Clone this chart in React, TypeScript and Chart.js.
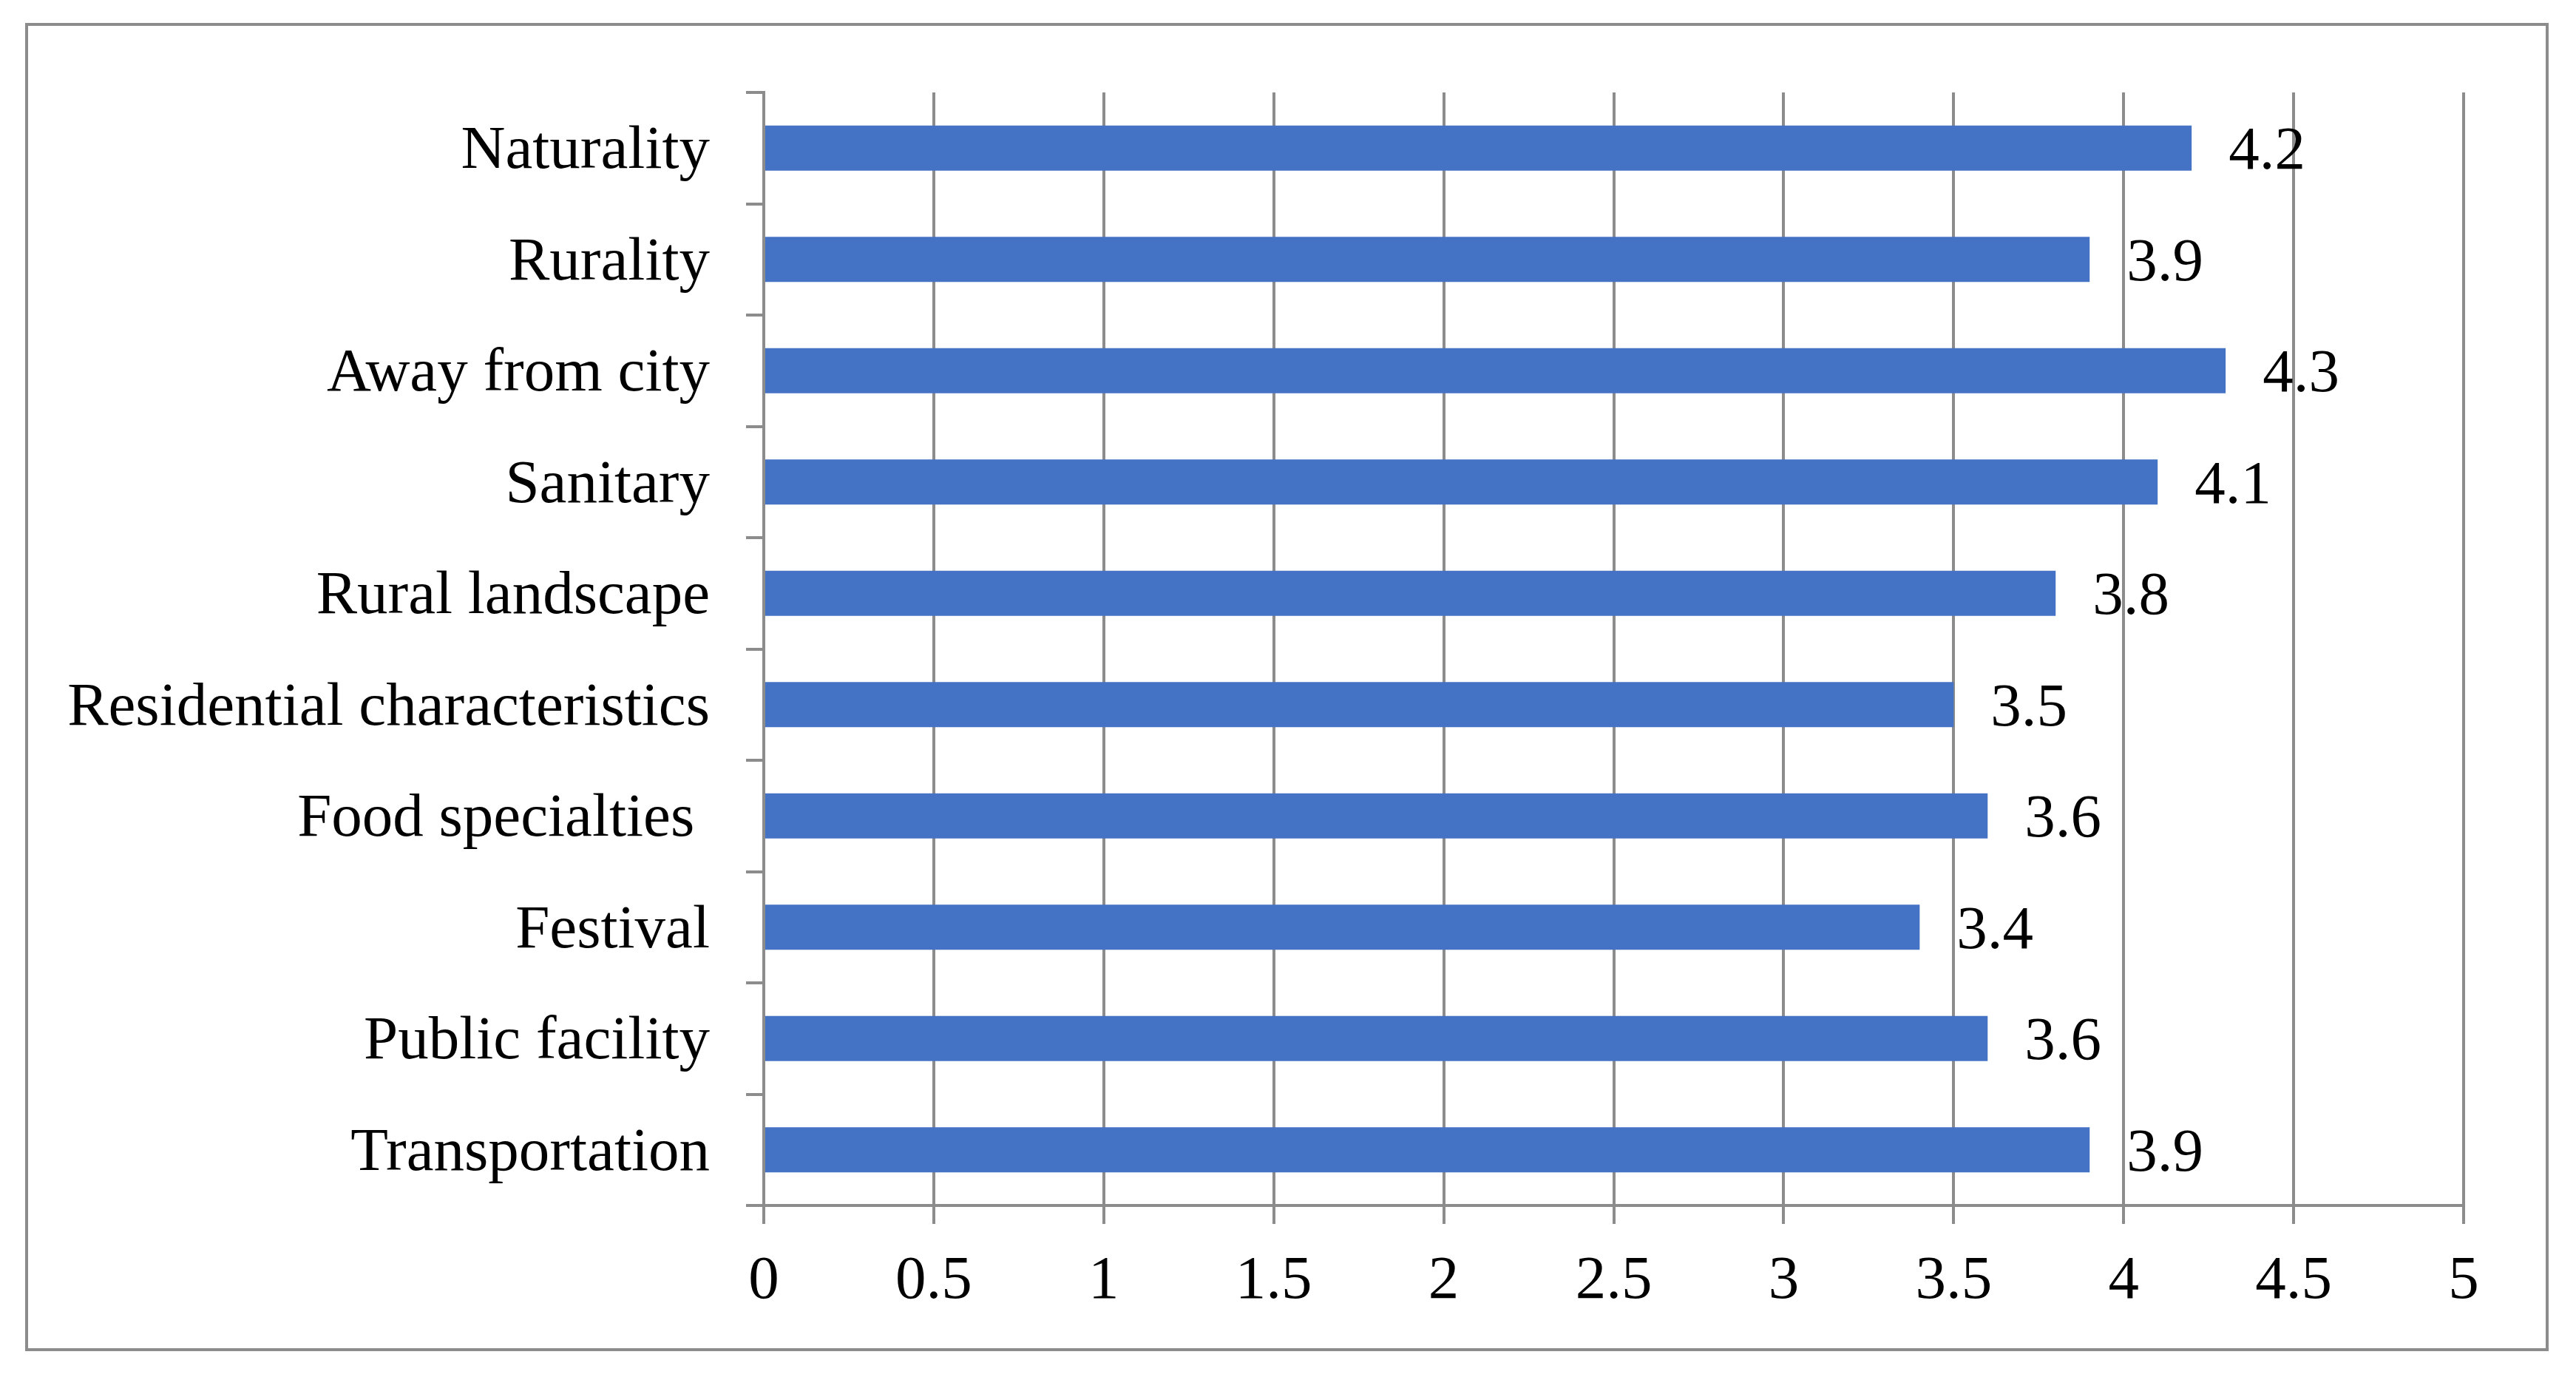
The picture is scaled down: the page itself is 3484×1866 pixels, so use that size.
import React, { useEffect, useRef } from "react";
import { Chart, registerables } from "chart.js";

Chart.register(...registerables);

const categories = [
  "Naturality",
  "Rurality",
  "Away from city",
  "Sanitary",
  "Rural landscape",
  "Residential characteristics",
  "Food specialties ",
  "Festival",
  "Public facility",
  "Transportation",
];
const scores = [4.2, 3.9, 4.3, 4.1, 3.8, 3.5, 3.6, 3.4, 3.6, 3.9];
const xMin = 0;
const xMax = 5;
const xStep = 0.5;

const GRAY = "#8c8c8c";
const BAR = "#4472C4";
const FONT = "'Liberation Serif', 'Times New Roman', serif";
const FONT_SIZE = 83;

const framePlugin = {
  id: "frame",
  beforeDraw(chart: any) {
    const ctx = chart.ctx;
    ctx.save();
    ctx.fillStyle = "#ffffff";
    ctx.fillRect(0, 0, chart.width, chart.height);
    ctx.strokeStyle = GRAY;
    ctx.lineWidth = 4;
    ctx.strokeRect(36, 33, 3409, 1792);
    ctx.restore();
  },
};

const valueLabelPlugin = {
  id: "valueLabels",
  afterDatasetsDraw(chart: any) {
    const ctx = chart.ctx;
    const meta = chart.getDatasetMeta(0);
    const data = chart.data.datasets[0].data;
    ctx.save();
    ctx.fillStyle = "#000000";
    ctx.font = `${FONT_SIZE}px ${FONT}`;
    ctx.textAlign = "left";
    ctx.textBaseline = "middle";
    meta.data.forEach((el: any, i: number) => {
      ctx.fillText(String(data[i]), el.x + 50, el.y + 6);
    });
    ctx.restore();
  },
};

export default function App() {
  const ref = useRef<HTMLCanvasElement | null>(null);
  useEffect(() => {
    if (!ref.current) return;
    const chart = new Chart(ref.current, {
      type: "bar",
      data: {
        labels: categories,
        datasets: [
          {
            data: scores,
            backgroundColor: BAR,
            borderWidth: 0,
            categoryPercentage: 1,
            barPercentage: 0.405,
          },
        ],
      },
      options: {
        indexAxis: "y",
        responsive: false,
        animation: false,
        devicePixelRatio: 1,
        layout: { padding: { left: 0, top: 125, right: 152, bottom: 0 } },
        plugins: {
          legend: { display: false },
          tooltip: { enabled: false },
        },
        scales: {
          x: {
            min: xMin,
            max: xMax,
            afterFit(scale: any) {
              scale.height = 236;
            },
            ticks: {
              stepSize: xStep,
              color: "#000000",
              font: { family: FONT, size: FONT_SIZE },
              padding: 28,
              callback: (v: any) => String(Number(v)),
            },
            grid: {
              color: GRAY,
              lineWidth: 4,
              tickLength: 25,
              drawOnChartArea: true,
            },
            border: { display: true, color: GRAY, width: 4 },
          },
          y: {
            afterFit(scale: any) {
              scale.width = 1033;
            },
            ticks: {
              color: "#000000",
              font: { family: FONT, size: FONT_SIZE },
              padding: 49,
              labelOffset: 5,
            },
            grid: {
              offset: true,
              drawOnChartArea: false,
              color: GRAY,
              lineWidth: 4,
              tickLength: 24,
            },
            border: { display: true, color: GRAY, width: 4 },
          },
        },
      },
      plugins: [framePlugin, valueLabelPlugin],
    });
    return () => chart.destroy();
  }, []);
  return (
    <div style={{ position: "absolute", left: 0, top: 0, width: 3484, height: 1866 }}>
      <canvas ref={ref} width={3484} height={1866} style={{ display: "block" }} />
    </div>
  );
}
